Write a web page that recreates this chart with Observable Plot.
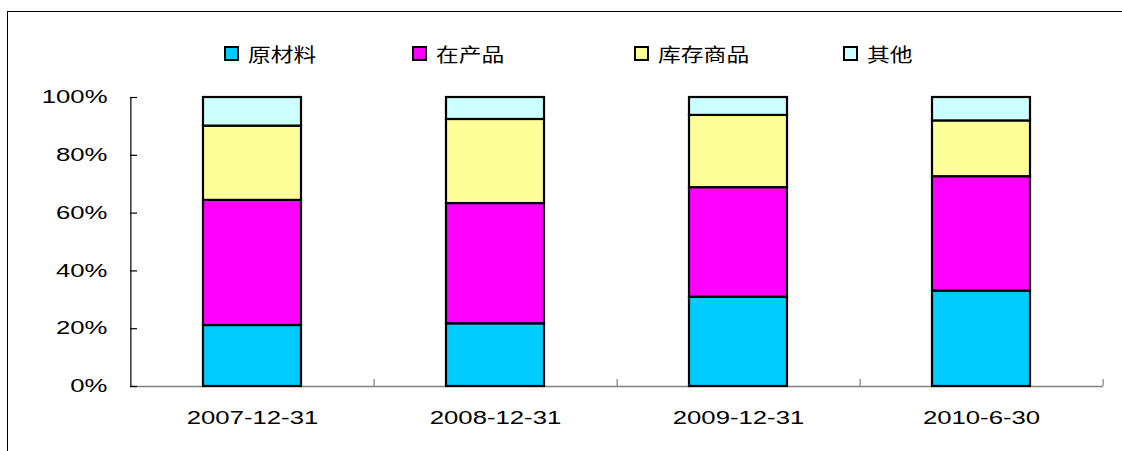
<!DOCTYPE html>
<html>
<head>
<meta charset="utf-8">
<script src="https://cdn.jsdelivr.net/npm/d3@7"></script>
<script src="https://cdn.jsdelivr.net/npm/@observablehq/plot@0.6"></script>
<style>
  html, body { margin: 0; padding: 0; background: #fff; overflow: hidden; }
  #wrap { position: relative; width: 1122px; height: 451px; }
  #box { position: absolute; left: 7px; top: 11px; width: 1140px; height: 470px; border: 1.5px solid #000; box-sizing: border-box; }
  #legend { position: absolute; left: 0; top: 0; width: 1122px; height: 90px; }
  .item { position: absolute; top: 40px; display: flex; align-items: center; font-family: "Noto Sans CJK SC", sans-serif; font-size: 19px; color: #000; }
  .sw { width: 11px; height: 11px; border: 2px solid #000; margin-right: 9px; }
  .lbl { display: inline-block; transform: scaleX(1.2); transform-origin: left center; }
  #chart { position: absolute; left: 0; top: 0; }
</style>
</head>
<body>
<div id="wrap">
  <div id="box"></div>
  <div id="chart"></div>
  <div id="legend"></div>
</div>
<script>
const dates = ["2007-12-31", "2008-12-31", "2009-12-31", "2010-6-30"];
const seriesNames = ["原材料", "在产品", "库存商品", "其他"];
const rawMaterials = [21.1, 21.7, 30.9, 33.0];
const workInProgress = [43.3, 41.6, 37.9, 39.6];
const finishedGoods = [25.7, 29.1, 25.0, 19.3];
const others = [9.9, 7.6, 6.2, 8.1];
const seriesColors = ["#00CCFF", "#FF00FF", "#FFFF99", "#CCFFFF"];
const yTicks = [0, 0.2, 0.4, 0.6, 0.8, 1];
const legendLeft = [224, 412, 634, 843];

const seriesValues = [rawMaterials, workInProgress, finishedGoods, others];
const data = [];
seriesNames.forEach((s, si) => {
  dates.forEach((d, di) => data.push({date: d, series: s, value: seriesValues[si][di] / 100}));
});

const W = 1122, H = 451;
const mL = 130, mR = 19, mT = 97, mB = 65;
const plotW = W - mL - mR, plotH = H - mT - mB;
const step = plotW / dates.length;

const chart = Plot.plot({
  width: W,
  height: H,
  marginLeft: mL,
  marginRight: mR,
  marginTop: mT,
  marginBottom: mB,
  style: {fontFamily: "'Liberation Sans', Arial, sans-serif", fontSize: "18px", color: "#000", background: "transparent"},
  x: {domain: dates, paddingInner: 0.595, paddingOuter: 0.2975, label: null},
  y: {domain: [0, 1], label: null},
  color: {domain: seriesNames, range: seriesColors},
  marks: [
    Plot.axisY({ticks: yTicks, tickFormat: d3.format(".0%"), tickSize: 0, tickPadding: 23, fontSize: 18, fill: "#000"}),
    Plot.axisX({tickSize: 0, tickPadding: 25, fontSize: 18, fill: "#000"}),
    Plot.ruleY([0], {stroke: "#808080", strokeWidth: 1.5}),
    Plot.ruleX(dates, {x: d => d, dx: step / 2, insetTop: plotH - 7, stroke: "#808080", strokeWidth: 1.2}),
    Plot.ruleX(dates.slice(0, 1), {x: d => d, dx: -step / 2, stroke: "#000", strokeWidth: 1.2}),
    Plot.ruleY(yTicks, {insetRight: plotW - 7, stroke: "#000", strokeWidth: 1.2}),
    Plot.barY(data, {x: "date", y: "value", fill: "series", stroke: "#000", strokeWidth: 2.2})
  ]
});
document.getElementById("chart").appendChild(chart);

// stretch axis label text horizontally (reference uses wide glyphs)
chart.querySelectorAll("g[aria-label='x-axis tick label'] text, g[aria-label='y-axis tick label'] text").forEach(el => {
  const tr = el.getAttribute("transform") || "";
  el.setAttribute("transform", `${tr} scale(1.43,1)`);
});

const legend = d3.select("#legend");
seriesNames.forEach((s, i) => {
  const item = legend.append("div").attr("class", "item").style("left", legendLeft[i] + "px");
  item.append("div").attr("class", "sw").style("background", seriesColors[i]);
  item.append("span").attr("class", "lbl").text(s);
});
</script>
</body>
</html>
